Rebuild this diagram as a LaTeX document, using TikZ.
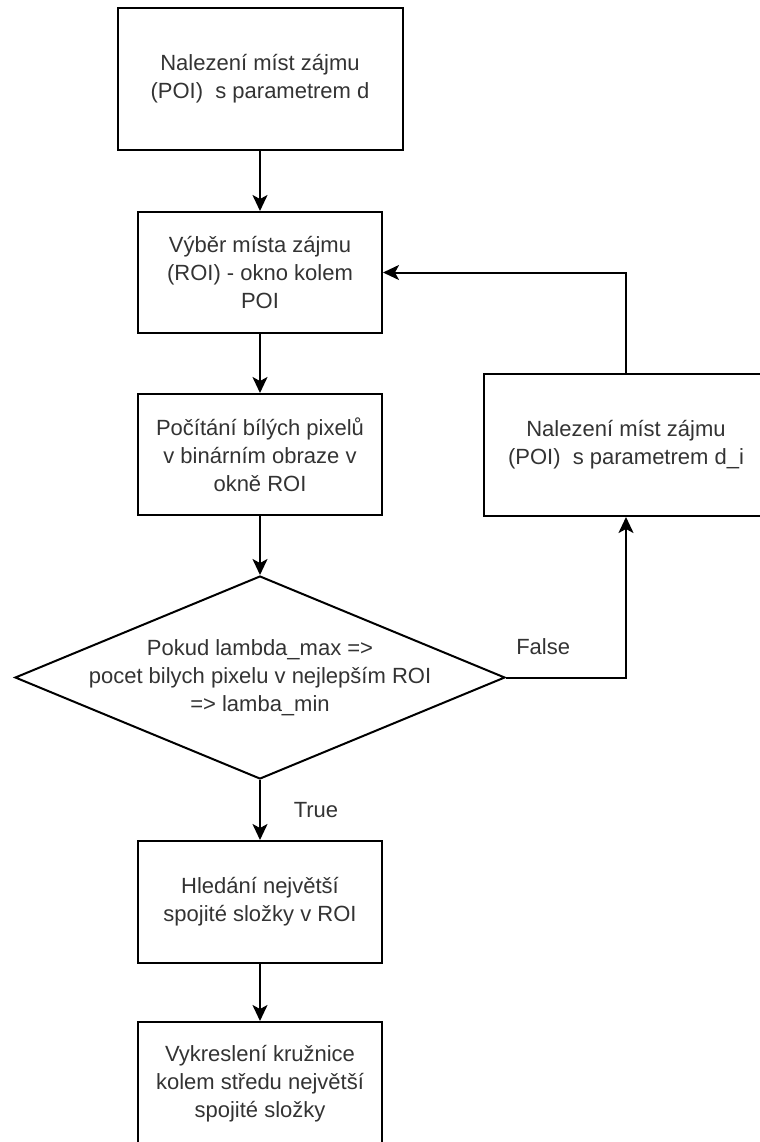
\documentclass[tikz,border=0pt]{standalone}
\usepackage{fontspec}
\setmainfont{Liberation Sans}
\usetikzlibrary{arrows.meta,shapes.geometric}

\begin{document}
\begin{tikzpicture}[x=0.5pt,y=-0.5pt,
		box/.style={draw,line width=1pt,rectangle,align=center,text=black!80,font=\fontsize{11}{14}\selectfont},
		decision/.style={draw,line width=1pt,diamond,minimum width=245pt,minimum height=101.5pt,inner sep=0pt},
		lbl/.style={text=black!80,font=\fontsize{11}{14}\selectfont},
		arr/.style={line width=1pt,-{Stealth[length=8pt,width=7.5pt,inset=2pt]}}]

			\useasboundingbox (0,0) rectangle (760,1142);

			\node[box,minimum width=142.5pt,minimum height=71pt] (poi) at (260,79) {Nalezení míst zájmu\\(POI)\ \ s parametrem d};
			\node[box,minimum width=122pt,minimum height=60.5pt] (roi) at (260,272.5) {Výběr místa zájmu\\(ROI) - okno kolem\\POI};
			\node[box,minimum width=122pt,minimum height=60.5pt] (count) at (260,454.5) {Počítání bílých pixelů\\v binárním obraze v\\okně ROI};
			\node[decision] (dec) at (260,677.5) {};
			\node[lbl,align=center] (dectext) at (dec) {Pokud lambda\_max =>\\pocet bilych pixelu v nejlepším ROI\\=> lamba\_min};
			\node[box,minimum width=142.5pt,minimum height=71pt] (poii) at (626,445) {Nalezení míst zájmu\\(POI)\ \ s parametrem d\_i};
			\node[box,minimum width=122pt,minimum height=61pt] (comp) at (260,902) {Hledání největší\\spojité složky v ROI};
			\node[box,minimum width=122pt,minimum height=62pt] (circ) at (260,1084) {Vykreslení kružnice\\kolem středu největší\\spojité složky};

			\draw[arr] (poi) -- (roi);
			\draw[arr] (roi) -- (count);
			\draw[arr] (count) -- (dec);
			\draw[arr] (dec.south) -- node[lbl,xshift=28pt] {True} (comp);
			\draw[arr] (comp) -- (circ);

			% smycka pro False
			\draw[arr] (dec.east) -- node[lbl,pos=0.31,yshift=15.5pt] {False} (dec.east -| poii.south) -- (poii.south);
			\draw[arr] (poii.north) |- (roi.east);

		\end{tikzpicture}
\end{document}
